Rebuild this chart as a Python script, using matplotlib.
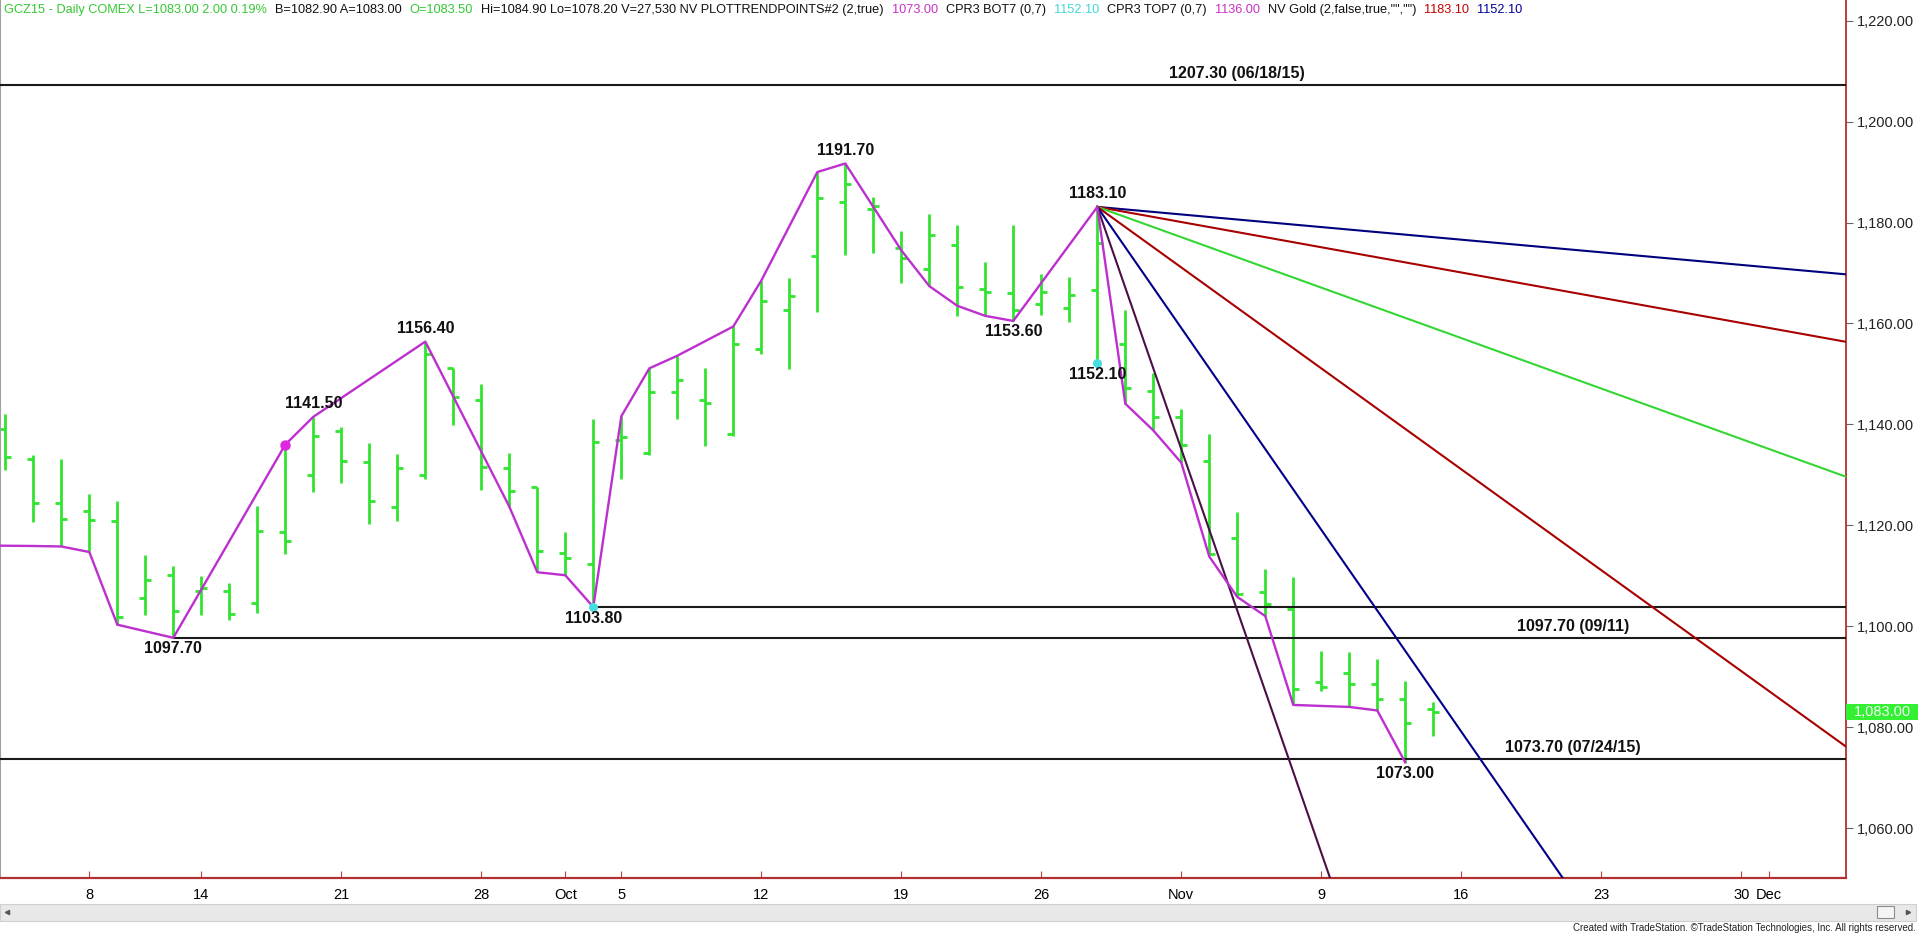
import matplotlib
matplotlib.use("Agg")
import matplotlib.pyplot as plt
import matplotlib.transforms as mtransforms
from matplotlib.patches import Rectangle
from matplotlib.lines import Line2D
import numpy as np

# GCZ15 diario, indice de sesion (0 = 2 sep 2015)
opens = [1139.1, 1133.2, 1124.5, 1122.9, 1120.9, 1105.6, 1110.1, 1107.0, 1107.0, 1104.5,
         1118.7, 1130.0, 1138.7, 1132.6, 1123.6, 1130.0, 1151.2, 1144.9, 1131.4, 1127.5,
         1114.5, 1112.3, 1137.0, 1134.3, 1146.4, 1144.9, 1138.0, 1154.9, 1162.7, 1173.3,
         1184.1, 1182.6, 1175.0, 1170.7, 1175.5, 1166.8, 1166.0, 1163.8, 1163.0, 1166.7,
         1155.9, 1146.7, 1141.4, 1132.8, 1117.4, 1106.8, 1103.4, 1088.9, 1090.8, 1088.5,
         1085.5, 1083.5]
highs = [1142.0, 1133.9, 1133.1, 1126.2, 1124.8, 1114.2, 1111.9, 1109.9, 1108.6, 1123.8,
         1136.0, 1141.5, 1139.5, 1136.4, 1134.2, 1156.4, 1151.2, 1148.0, 1134.3, 1127.6,
         1118.7, 1141.0, 1141.6, 1151.1, 1153.6, 1151.1, 1159.4, 1168.5, 1169.0, 1190.0,
         1191.7, 1185.1, 1178.4, 1181.6, 1179.6, 1172.1, 1179.6, 1169.8, 1169.2, 1183.1,
         1162.7, 1150.1, 1143.0, 1138.1, 1122.6, 1111.3, 1109.8, 1095.1, 1094.9, 1093.6,
         1089.1, 1084.9]
lows = [1131.0, 1120.7, 1115.9, 1114.9, 1100.3, 1102.2, 1097.7, 1102.2, 1101.2, 1102.7,
        1114.4, 1126.6, 1128.3, 1120.2, 1120.9, 1129.2, 1139.8, 1127.0, 1123.7, 1110.7,
        1110.1, 1103.8, 1129.2, 1134.0, 1141.0, 1135.7, 1137.7, 1153.9, 1151.0, 1162.2,
        1173.6, 1174.0, 1168.0, 1167.5, 1161.5, 1161.5, 1160.5, 1161.7, 1160.3, 1152.1,
        1144.1, 1138.8, 1132.5, 1114.3, 1106.0, 1102.0, 1084.5, 1087.1, 1084.2, 1083.2,
        1073.0, 1078.2]
closes = [1133.6, 1124.5, 1121.3, 1121.0, 1101.8, 1109.1, 1103.1, 1107.5, 1102.5, 1118.9,
          1116.9, 1137.7, 1132.8, 1124.8, 1131.3, 1154.0, 1145.5, 1131.6, 1126.8, 1115.0,
          1113.6, 1136.5, 1137.5, 1146.4, 1148.7, 1144.2, 1155.9, 1164.5, 1165.4, 1184.8,
          1187.6, 1183.3, 1173.0, 1177.5, 1167.2, 1166.2, 1162.7, 1166.2, 1165.6, 1176.0,
          1147.3, 1141.4, 1136.0, 1114.3, 1106.3, 1104.4, 1087.6, 1088.0, 1088.5, 1085.6,
          1080.9, 1083.0]

# linea de puntos de tendencia (zigzag)
zz_idx = [-1, 1, 2, 3, 4, 6, 10, 11, 15, 18, 19, 20, 21, 22, 23, 24, 26, 27, 29, 30,
          32, 33, 34, 35, 36, 39, 40, 41, 42, 43, 44, 45, 46, 47, 48, 49, 50]
zz_val = [1116.0, 1115.9, 1115.8, 1114.7, 1100.3, 1097.7, 1136.0, 1141.5, 1156.4, 1123.7,
          1110.7, 1110.1, 1103.8, 1141.6, 1151.1, 1153.6, 1159.4, 1168.5, 1190.0, 1191.7,
          1174.5, 1167.4, 1163.5, 1161.5, 1160.5, 1183.1, 1144.1, 1138.8, 1132.4, 1113.8,
          1105.8, 1102.0, 1084.4, 1084.2, 1084.0, 1083.3, 1073.0]

tick_idx = [3, 7, 12, 17, 20, 22, 27, 32, 37, 42, 47, 52, 57, 62, 63]
tick_lbl = ["8", "14", "21", "28", "Oct", "5", "12", "19", "26", "Nov", "9", "16", "23", "30", "Dec"]
price_ticks = [1060, 1080, 1100, 1120, 1140, 1160, 1180, 1200, 1220]

# niveles horizontales
levels = [1207.30, 1103.80, 1097.70, 1073.70]
level_start = [None, 21, 6, None]
level_labels = ["1207.30 (06/18/15)", None, "1097.70 (09/11)", "1073.70 (07/24/15)"]
level_label_x = [44, None, 56, 56]

# abanico desde el maximo 1183.10
fan_x, fan_y = 39, 1183.10
fan_slopes = [-0.5, -1, -2, -4, -8, -16]
fan_colors = ["#00007f", "#a80000", "#33d633", "#a80000", "#000088", "#4a0f45"]

# etiquetas de pivotes: texto, indice, precio, arriba/abajo
piv_text = ["1097.70", "1141.50", "1156.40", "1103.80", "1191.70", "1153.60", "1183.10", "1152.10", "1073.00"]
piv_idx = [6, 11, 15, 21, 30, 36, 39, 39, 50]
piv_val = [1097.7, 1141.5, 1156.4, 1103.8, 1191.7, 1160.5, 1183.1, 1152.1, 1073.0]
piv_pos = ["below", "above", "above", "below", "above", "below", "above", "below", "below"]

last_price = 1083.00

GREEN = "#30e430"
W, H = 1920, 934
XMIN, XMAX = -0.19, 65.74
YMIN, YMAX = 1050.1, 1224.1

fig = plt.figure(figsize=(W / 100, H / 100), dpi=100)
fig.patch.set_facecolor("white")
ax = fig.add_axes([0, 56 / H, 1846 / W, 878 / H])
ax.set_xlim(XMIN, XMAX)
ax.set_ylim(YMIN, YMAX)

idx = np.arange(len(opens))
ax.vlines(idx, lows, highs, color=GREEN, lw=2.0, zorder=2)
ax.hlines(opens, idx - 0.22, idx, color=GREEN, lw=2.0, zorder=2)
ax.hlines(closes, idx, idx + 0.22, color=GREEN, lw=2.0, zorder=2)

for lvl, start in zip(levels, level_start):
    x0 = XMIN if start is None else start
    ax.hlines(lvl, x0, XMAX, color="#1a1a1a", lw=1.5, zorder=3)
for txt, lvl, lx in zip(level_labels, levels, level_label_x):
    if txt:
        ax.annotate(txt, (lx, lvl), xytext=(0, 3), textcoords="offset points",
                    ha="center", va="bottom", fontsize=11.5, fontweight="bold",
                    family="Liberation Sans", color="#111111")

xs = np.array([fan_x, XMAX])
for s, c in zip(fan_slopes, fan_colors):
    ax.plot(xs, fan_y + s * (xs - fan_x), color=c, lw=1.5, zorder=4)

ax.plot(zz_idx, zz_val, color="#bd2fcf", lw=1.7, zorder=5)
ax.plot([10], [1136.0], "o", color="#e026e0", ms=6.5, zorder=6)
ax.plot([21, 39], [1103.8, 1152.1], "o", color="#45dede", ms=5.5, zorder=6)

for t, i, v, p in zip(piv_text, piv_idx, piv_val, piv_pos):
    if p == "above":
        ax.annotate(t, (i, v), xytext=(0, 4), textcoords="offset points", ha="center", va="bottom",
                    fontsize=11.5, fontweight="bold", family="Liberation Sans", color="#111111", zorder=7)
    else:
        ax.annotate(t, (i, v), xytext=(0, -2.5), textcoords="offset points", ha="center", va="top",
                    fontsize=11.5, fontweight="bold", family="Liberation Sans", color="#111111", zorder=7)

# ejes
ax.spines["top"].set_visible(False)
ax.spines["left"].set_color("#a0a0a0")
ax.spines["right"].set_color("#b03030")
ax.spines["right"].set_linewidth(1.3)
ax.spines["bottom"].set_color("#b03030")
ax.spines["bottom"].set_linewidth(1.6)
ax.yaxis.tick_right()
ax.set_yticks(price_ticks)
ax.set_yticklabels([f"{v:,.2f}" for v in price_ticks])
ax.tick_params(axis="y", length=5, color="#666666", labelsize=10.5, pad=3, labelcolor="#222222")
ax.set_xticks(tick_idx)
ax.set_xticklabels(tick_lbl)
ax.tick_params(axis="x", direction="in", length=5, color="#c04040", labelsize=10.5, pad=7)
for lab in ax.get_xticklabels() + ax.get_yticklabels():
    lab.set_family("Liberation Sans")

# ultimo precio
tr = mtransforms.blended_transform_factory(ax.transAxes, ax.transData)
ax.add_patch(Rectangle((1.0, last_price - 1.6), 72 / 1846, 3.2, transform=tr,
                       facecolor="#33f033", edgecolor="none", clip_on=False, zorder=8))
ax.text(1.0 + 36 / 1846, last_price, f"{last_price:,.2f}", transform=tr, ha="center", va="center",
        fontsize=10.5, color="#f4fff4", family="Liberation Sans", clip_on=False, zorder=9)

# encabezado
segs = [
    ("GCZ15 - Daily COMEX L=1083.00 2.00 0.19%", "#33c833"),
    ("B=1082.90 A=1083.00", "#111111"),
    ("O=1083.50", "#33c833"),
    ("Hi=1084.90 Lo=1078.20 V=27,530 NV PLOTTRENDPOINTS#2 (2,true)", "#111111"),
    ("1073.00", "#c830c8"),
    ("CPR3 BOT7 (0,7)", "#111111"),
    ("1152.10", "#40d8d8"),
    ("CPR3 TOP7 (0,7)", "#111111"),
    ("1136.00", "#c830c8"),
    ('NV Gold (2,false,true,"","")', "#111111"),
    ("1183.10", "#c00000"),
    ("1152.10", "#000099"),
]
fig.canvas.draw()
renderer = fig.canvas.get_renderer()
xpix = 4
for txt, col in segs:
    t = fig.text(xpix / W, 1 - 10 / H, txt, ha="left", va="center", fontsize=9.2,
                 color=col, family="Liberation Sans")
    bb = t.get_window_extent(renderer=renderer)
    xpix = bb.x1 + 8

# barra de desplazamiento y pie
fig.add_artist(Rectangle((0, (H - 921) / H), 1916 / W, 17 / H, transform=fig.transFigure,
                         facecolor="#e8e8e8", edgecolor="#cfcfcf", lw=0.8))
fig.add_artist(Rectangle((1877 / W, (H - 918) / H), 17 / W, 12 / H, transform=fig.transFigure,
                         facecolor="#f4f4f4", edgecolor="#8c8c8c", lw=0.8))
fig.add_artist(Line2D([7 / W], [(H - 912) / H], marker="<", ms=3, color="#555555", transform=fig.transFigure))
fig.add_artist(Line2D([1908 / W], [(H - 912) / H], marker=">", ms=3, color="#555555", transform=fig.transFigure))
fig.text(1916 / W, 1 - 928 / H, "Created with TradeStation. \u00a9TradeStation Technologies, Inc. All rights reserved.",
         ha="right", va="center", fontsize=7, color="#222222", family="Liberation Sans")

fig.savefig("out.png", dpi=100, facecolor="white")
